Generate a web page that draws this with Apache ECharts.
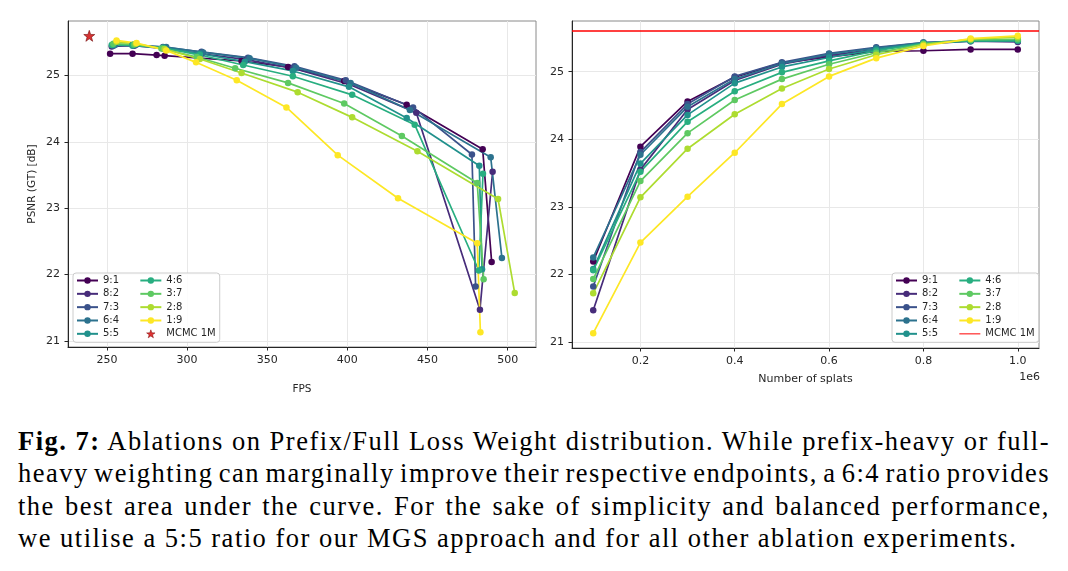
<!DOCTYPE html>
<html>
<head>
<meta charset="utf-8">
<script src="https://cdn.jsdelivr.net/npm/echarts@6/dist/echarts.min.js"></script>
<style>
  html, body { margin: 0; padding: 0; background: #fff; }
  #wrap { position: relative; width: 1068px; height: 571px; overflow: hidden; }
  #chart { position: absolute; left: 0; top: 0; width: 1068px; height: 410px; }
  #caption { position: absolute; left: 18px; top: 425px; width: 1032px;
    font-family: 'Liberation Serif', serif; font-size: 26.5px; line-height: 32.3px;
    color: #000; letter-spacing: 1.5px; }
  #caption div { white-space: nowrap; }
  #caption span { display: inline-block; }
</style>
</head>
<body>
<div id="wrap">
  <div id="chart"></div>
  <div id="caption"></div>
</div>
<script>
// ratio names + viridis colours
const RATIOS = ['9:1', '8:2', '7:3', '6:4', '5:5', '4:6', '3:7', '2:8', '1:9'];
const COLORS = ['#440154', '#472c7a', '#3b528b', '#2c728e', '#21918c', '#28ae80', '#5ec962', '#addc30', '#fde725'];

// number of splats (x of right plot)
const SPLATS = [100000, 200000, 300000, 400000, 500000, 600000, 700000, 800000, 900000, 1000000];

// PSNR (GT) per ratio, one value per splat count
const psnr91 = [22.19, 23.89, 24.56, 24.92, 25.13, 25.22, 25.30, 25.31, 25.33, 25.33];
const psnr82 = [21.47, 23.55, 24.44, 24.87, 25.11, 25.24, 25.33, 25.41, 25.45, 25.44];
const psnr73 = [21.82, 23.81, 24.52, 24.93, 25.14, 25.27, 25.36, 25.43, 25.46, 25.45];
const psnr64 = [22.25, 23.77, 24.48, 24.89, 25.12, 25.26, 25.35, 25.43, 25.46, 25.46];
const psnr55 = [22.08, 23.64, 24.36, 24.83, 25.07, 25.21, 25.33, 25.42, 25.45, 25.46];
const psnr46 = [22.06, 23.52, 24.26, 24.71, 24.99, 25.16, 25.31, 25.42, 25.46, 25.46];
const psnr37 = [21.93, 23.38, 24.09, 24.58, 24.89, 25.11, 25.28, 25.41, 25.47, 25.48];
const psnr28 = [21.72, 23.14, 23.86, 24.37, 24.75, 25.04, 25.25, 25.40, 25.48, 25.51];
const psnr19 = [21.13, 22.47, 23.15, 23.80, 24.52, 24.93, 25.20, 25.38, 25.49, 25.53];

// FPS per ratio, same splat order
const fps91 = [490, 484.4, 437, 398, 363, 334, 286, 281, 266, 252];
const fps82 = [482.7, 490.6, 443, 401, 366, 337, 309, 285, 267, 253];
const fps73 = [480, 477.7, 441, 399, 367, 338, 309, 285, 266, 254];
const fps64 = [496.4, 489.4, 439, 402, 368, 339, 310, 287, 268, 255];
const fps55 = [484, 482.3, 437, 401, 366, 336, 308, 285, 266, 254];
const fps46 = [482, 484.6, 442, 403, 366, 335, 308, 285, 266, 253];
const fps37 = [485, 481, 434, 398, 363, 330, 306, 284, 267, 254];
const fps28 = [504.4, 494, 443.7, 403, 369, 334, 308, 286, 268, 256];
const fps19 = [483, 481, 431.6, 394, 362, 331, 305.6, 287, 268.5, 256];

// MCMC 1M reference
const MCMC_FPS = 239;
const MCMC_PSNR = 25.6;

// tick labels
const FPS_TICKS = [250, 300, 350, 400, 450, 500];
const PSNR_TICKS = [21, 22, 23, 24, 25];
const SPLAT_TICKS = [200000, 400000, 600000, 800000, 1000000];

const CAPTION_LINES = [
  '<b>Fig. 7:</b> Ablations on Prefix/Full Loss Weight distribution. While prefix-heavy or full-',
  'heavy weighting can marginally improve their respective endpoints, a 6:4 ratio provides',
  'the best area under the curve. For the sake of simplicity and balanced performance,',
  'we utilise a 5:5 ratio for our MGS approach and for all other ablation experiments.'
];

const PSNR = [psnr91, psnr82, psnr73, psnr64, psnr55, psnr46, psnr37, psnr28, psnr19];
const FPS = [fps91, fps82, fps73, fps64, fps55, fps46, fps37, fps28, fps19];

const FONT = 'DejaVu Sans';
const TEXT = '#262626';
const AXIS_DARK = '#262626';
const FRAME = '#8a8a8a';
const GRID_LINE = '#e8e8e8';
const STAR = 'path://M0,-10L2.35,-3.24L9.51,-3.09L3.8,1.24L5.88,8.09L0,4L-5.88,8.09L-3.8,1.24L-9.51,-3.09L-2.35,-3.24Z';

// matplotlib style 5% margins
const padRange = (vals) => {
  const lo = Math.min(...vals), hi = Math.max(...vals), m = (hi - lo) * 0.05;
  return [lo - m, hi + m];
};
const allPsnr = PSNR.flat();
const fpsRange = padRange([...FPS.flat(), MCMC_FPS]);
const leftYRange = padRange([...allPsnr, MCMC_PSNR]);
const rightYRange = padRange(allPsnr);
const splatRange = padRange(SPLATS);

const valueAxis = (gridIndex, range, ticks, fmt, extra) => Object.assign({
  type: 'value',
  gridIndex,
  min: range[0],
  max: range[1],
  axisLine: { show: true, onZero: false, lineStyle: { color: AXIS_DARK, width: 1 } },
  axisTick: { show: true, inside: false, length: 3.5, customValues: ticks, lineStyle: { color: AXIS_DARK, width: 1 } },
  axisLabel: { customValues: ticks, formatter: fmt, color: TEXT, fontFamily: FONT, fontSize: 11, margin: 8 },
  splitLine: { show: true, lineStyle: { color: GRID_LINE, width: 1 } },
  nameTextStyle: { color: TEXT, fontFamily: FONT, fontSize: 10.5 }
}, extra);

const legendFor = (left, lastItem) => ({
  orient: 'vertical',
  left,
  top: 273,
  height: 64,
  padding: [2.5, 4, 3.5, 3],
  itemGap: 3.33,
  itemWidth: 21,
  itemHeight: 8,
  backgroundColor: 'rgba(255,255,255,0.85)',
  borderColor: '#cccccc',
  borderWidth: 1,
  borderRadius: 3,
  textStyle: { color: TEXT, fontFamily: FONT, fontSize: 10, lineHeight: 10 },
  data: RATIOS.map((n, i) => (i < 5 ? { name: n, textStyle: { width: 33 } } : { name: n })).concat([lastItem]),
  z: 10
});

const lineStyleOf = (i) => ({
  type: 'line',
  name: RATIOS[i],
  symbol: 'circle',
  symbolSize: 6.5,
  lineStyle: { color: COLORS[i], width: 1.7 },
  itemStyle: { color: COLORS[i] },
  emphasis: { disabled: true },
  animation: false
});

// left: FPS vs PSNR, points joined in FPS order
const leftSeries = RATIOS.map((n, i) => Object.assign(lineStyleOf(i), {
  xAxisIndex: 0,
  yAxisIndex: 0,
  data: FPS[i].map((f, k) => [f, PSNR[i][k]]).sort((a, b) => a[0] - b[0])
}));
leftSeries.push({
  type: 'scatter',
  name: 'MCMC 1M',
  xAxisIndex: 0,
  yAxisIndex: 0,
  data: [[MCMC_FPS, MCMC_PSNR]],
  symbol: STAR,
  symbolSize: 11,
  itemStyle: { color: '#cc0000', borderColor: '#6b0000', borderWidth: 0.7 },
  emphasis: { disabled: true },
  z: 4
});

// right: splats vs PSNR
const rightSeries = RATIOS.map((n, i) => Object.assign(lineStyleOf(i), {
  xAxisIndex: 1,
  yAxisIndex: 1,
  data: SPLATS.map((s, k) => [s, PSNR[i][k]])
}));
rightSeries.push({
  type: 'line',
  name: 'MCMC 1M',
  xAxisIndex: 1,
  yAxisIndex: 1,
  data: [],
  symbol: 'none',
  itemStyle: { color: '#ff0000' },
  lineStyle: { color: '#ff0000', width: 1.5 },
  markLine: {
    silent: true,
    symbol: 'none',
    label: { show: false },
    lineStyle: { color: '#ff0000', width: 1.5, type: 'solid' },
    data: [{ yAxis: MCMC_PSNR }]
  }
});

const chart = echarts.init(document.getElementById('chart'), null, { renderer: 'canvas' });

chart.setOption({
  backgroundColor: '#fff',
  animation: false,
  textStyle: { fontFamily: FONT },
  grid: [
    { left: 68, top: 21, width: 468, height: 326, show: true, borderColor: FRAME, borderWidth: 1 },
    { left: 572, top: 21, width: 467, height: 327, show: true, borderColor: FRAME, borderWidth: 1 }
  ],
  xAxis: [
    valueAxis(0, fpsRange, FPS_TICKS, (v) => String(v), {
      name: 'FPS', nameLocation: 'middle', nameGap: 37
    }),
    valueAxis(1, splatRange, SPLAT_TICKS, (v) => (v / 1e6).toFixed(1), {
      name: 'Number of splats', nameLocation: 'middle', nameGap: 26,
      nameTextStyle: { color: TEXT, fontFamily: FONT, fontSize: 11 }
    })
  ],
  yAxis: [
    valueAxis(0, leftYRange, PSNR_TICKS, (v) => String(v), {
      name: 'PSNR (GT) [dB]', nameLocation: 'middle', nameGap: 30, nameRotate: 90
    }),
    valueAxis(1, rightYRange, PSNR_TICKS, (v) => String(v), {})
  ],
  legend: [
    legendFor(73, {
      name: 'MCMC 1M',
      itemStyle: { color: '#d40000', borderColor: '#7a0000', borderWidth: 0.6 }
    }),
    legendFor(892, {
      name: 'MCMC 1M',
      icon: 'path://M0,0H20V1.2H0Z',
      itemStyle: { color: '#ff0000', borderColor: '#ff0000', borderWidth: 0 }
    })
  ],
  graphic: [
    { type: 'text', right: 28, top: 372, style: { text: '1e6', fill: TEXT, font: '11px "DejaVu Sans"' } }
  ],
  series: leftSeries.concat(rightSeries)
});

// caption: justify every line but the last by stretching word spacing
const caption = document.getElementById('caption');
const CAPTION_WIDTH = 1032;
CAPTION_LINES.forEach((t, i) => {
  const row = document.createElement('div');
  const span = document.createElement('span');
  span.innerHTML = t;
  row.appendChild(span);
  caption.appendChild(row);
  if (i < CAPTION_LINES.length - 1) {
    const gaps = span.textContent.split(' ').length - 1;
    const extra = CAPTION_WIDTH - span.getBoundingClientRect().width;
    span.style.wordSpacing = (extra / gaps) + 'px';
  }
});
</script>
</body>
</html>
